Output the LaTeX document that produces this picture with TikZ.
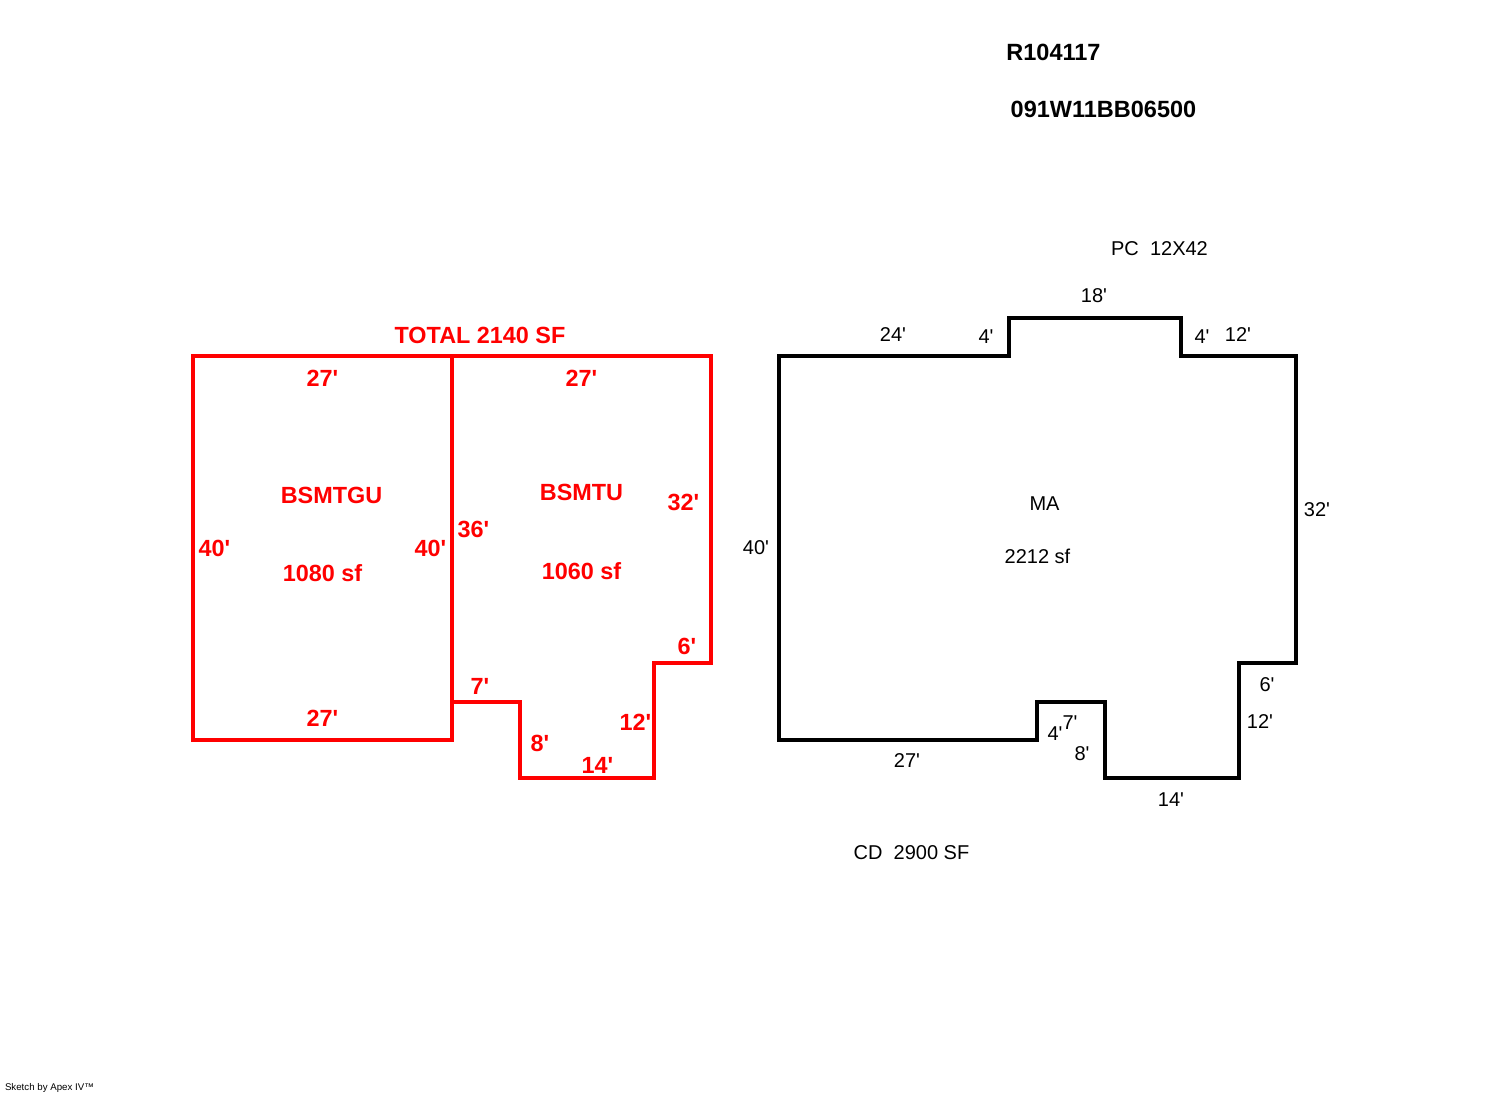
\documentclass[tikz,border=0pt]{standalone}
\usepackage{fontspec}
\setmainfont{Liberation Sans}[Ligatures=TeXOff]
\tikzset{
  wall/.style={line width=4pt,line join=miter},
  redwall/.style={wall,draw=red,xshift=-0.5pt,yshift=-0.5pt},
  blackwall/.style={wall,draw=black,yshift=-0.5pt},
  redlab/.style={text=red,font=\fontsize{23.4}{23.4}\bfseries\selectfont,inner sep=0pt},
  blacklab/.style={text=black,font=\fontsize{20}{20}\selectfont,inner sep=0pt},
  idlab/.style={text=black,font=\fontsize{23.5}{23.5}\bfseries\selectfont,inner sep=0pt},
  credit/.style={text=black,font=\fontsize{9.7}{10}\selectfont,inner sep=0pt}
}
\begin{document}
\begin{tikzpicture}[x=1pt,y=-1pt]
\useasboundingbox (0,0) rectangle (1492,1094);
% red plan
\draw[redwall] (193,355) rectangle (452,739);
\draw[redwall] (452,355) -- (711,355) -- (711,662) -- (654,662) -- (654,777) -- (520,777) -- (520,701) -- (452,701);
% black plan
\draw[blackwall] (779,355) -- (1009,355) -- (1009,317) -- (1181,317) -- (1181,355) -- (1296,355) -- (1296,662) -- (1239,662) -- (1239,777) -- (1105,777) -- (1105,701) -- (1037,701) -- (1037,739) -- (779,739) -- cycle;
% header
\node[idlab] (rid) at (1053.5,52) {R104117};
\node[idlab] (parcel) at (1103.5,109) {091W11BB06500};
% red labels
\node[redlab] (total) at (480,335) {TOTAL 2140 SF};
\node[redlab] (r1) at (322.5,378) {27'};
\node[redlab] (r2) at (581.5,378) {27'};
\node[redlab] (gu) at (331.5,495) {BSMTGU};
\node[redlab] (gusf) at (322.5,573) {1080 sf};
\node[redlab] (u) at (581.5,492) {BSMTU};
\node[redlab] (usf) at (581.5,571) {1060 sf};
\node[redlab] (r3) at (214.5,548) {40'};
\node[redlab] (r4) at (430.5,548) {40'};
\node[redlab] (r5) at (473.5,529) {36'};
\node[redlab] (r6) at (683.5,502) {32'};
\node[redlab] (r7) at (687,646) {6'};
\node[redlab] (r8) at (480,686) {7'};
\node[redlab] (r9) at (322.5,718) {27'};
\node[redlab] (r10) at (635.5,722) {12'};
\node[redlab] (r11) at (540,743) {8'};
\node[redlab] (r12) at (597.5,765) {14'};
% black labels
\node[blacklab] (pc) at (1159.5,249) {PC\ \ 12X42};
\node[blacklab] (b18) at (1094,296) {18'};
\node[blacklab] (b24) at (893,335) {24'};
\node[blacklab] (b4a) at (986,337) {4'};
\node[blacklab] (b4b) at (1202,337) {4'};
\node[blacklab] (b12a) at (1238,335) {12'};
\node[blacklab] (ma) at (1044.5,504) {MA};
\node[blacklab] (masf) at (1037.5,556) {2212 sf};
\node[blacklab] (b32) at (1317,510) {32'};
\node[blacklab] (b40) at (756,548) {40'};
\node[blacklab] (b6) at (1267,685) {6'};
\node[blacklab] (b7) at (1070,723) {7'};
\node[blacklab] (b12b) at (1260,722) {12'};
\node[blacklab] (b4c) at (1055,734) {4'};
\node[blacklab] (b8) at (1082,754) {8'};
\node[blacklab] (b27) at (907,761) {27'};
\node[blacklab] (b14) at (1171,800) {14'};
\node[blacklab] (cd) at (911.5,853) {CD\ \ 2900 SF};
\node[credit] (sk) at (49.5,1088) {Sketch by Apex IV™};
\end{tikzpicture}
\end{document}
